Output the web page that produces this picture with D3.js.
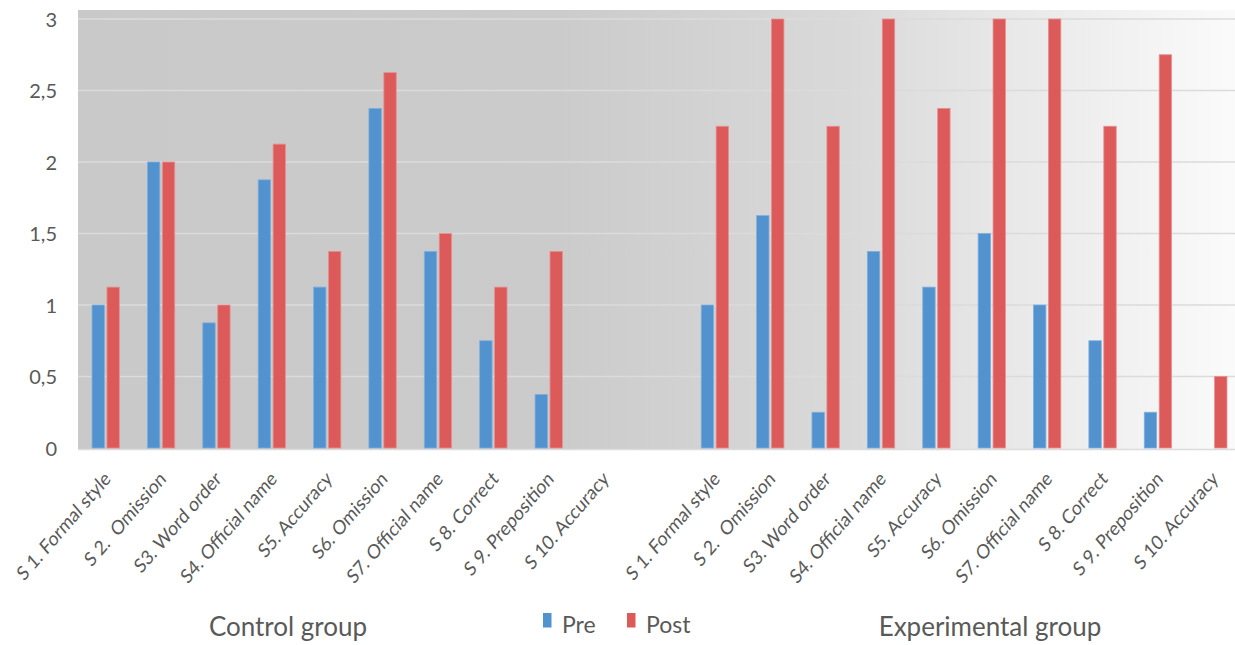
<!DOCTYPE html>
<html>
<head>
<meta charset="utf-8">
<script src="https://cdn.jsdelivr.net/npm/d3@7/dist/d3.min.js"></script>
<style>
  html, body { margin: 0; padding: 0; background: #ffffff; }
  svg { display: block; }
  text { font-family: Lato, "Open Sans", sans-serif; fill: #595959; }
</style>
</head>
<body>
<svg id="chart" width="1235" height="645"></svg>
<script>
// Items scored in each group
const categories = [
  "S 1. Formal style", "S 2.  Omission", "S3. Word order", "S4. Official name",
  "S5. Accuracy", "S6. Omission", "S7. Official name", "S 8. Correct",
  "S 9. Preposition", "S 10. Accuracy"
];
const groups = ["Control group", "Experimental group"];
const series = ["Pre", "Post"];

// Mean scores per item
const controlPre       = [1.0, 2.0, 0.875, 1.875, 1.125, 2.375, 1.375, 0.75, 0.375, 0];
const controlPost      = [1.125, 2.0, 1.0, 2.125, 1.375, 2.625, 1.5, 1.125, 1.375, 0];
const experimentalPre  = [1.0, 1.625, 0.25, 1.375, 1.125, 1.5, 1.0, 0.75, 0.25, 0];
const experimentalPost = [2.25, 3.0, 2.25, 3.0, 2.375, 3.0, 3.0, 2.25, 2.75, 0.5];

const yTicks = [0, 0.5, 1, 1.5, 2, 2.5, 3];
const colors = { Pre: "#5192cf", Post: "#dd5a5b" };
const strokes = { Pre: "#7fb0dd", Post: "#e88f90" };

// Slots along the x axis: ten control items, one empty gap, ten experimental items
const slots = [];
categories.forEach((c, i) => slots.push({ key: "c" + i, label: c, Pre: controlPre[i], Post: controlPost[i] }));
slots.push({ key: "gap", label: "", Pre: null, Post: null });
categories.forEach((c, i) => slots.push({ key: "e" + i, label: c, Pre: experimentalPre[i], Post: experimentalPost[i] }));

const svg = d3.select("#chart");
const plot = { left: 78, right: 1241, top: 10, bottom: 448 };

const x0 = d3.scaleBand().domain(slots.map(d => d.key)).range([plot.left, plot.right]).padding(0);
const x1 = d3.scaleBand().domain(series).range([0, x0.bandwidth()]).paddingInner(0.17).paddingOuter(0.94);
const y = d3.scaleLinear().domain([0, 3]).range([plot.bottom, 19]);

const locale = d3.formatLocale({ decimal: ",", thousands: ".", grouping: [3], currency: ["", "€"] });
const fmt = locale.format(".1~f");

// Plot background: flat grey fading to near white on the right
const defs = svg.append("defs");
const grad = defs.append("linearGradient").attr("id", "bg").attr("x1", "0%").attr("x2", "100%");
[[0, "#c9c9c9"], [0.41, "#cbcbcb"], [0.66, "#d9d9d9"], [0.79, "#e7e7e7"], [1, "#fbfbfb"]]
  .forEach(([o, c]) => grad.append("stop").attr("offset", o).attr("stop-color", c));

svg.append("rect")
  .attr("x", plot.left).attr("y", plot.top)
  .attr("width", plot.right - plot.left).attr("height", plot.bottom - plot.top + 1)
  .attr("fill", "url(#bg)");

// Horizontal gridlines
svg.append("g").selectAll("line").data(yTicks.filter(t => t > 0)).join("line")
  .attr("x1", plot.left).attr("x2", plot.right)
  .attr("y1", d => y(d)).attr("y2", d => y(d))
  .attr("stroke", "#dbdbdb").attr("stroke-width", 1.5);

// Baseline
svg.append("line")
  .attr("x1", plot.left).attr("x2", plot.right)
  .attr("y1", plot.bottom + 1.5).attr("y2", plot.bottom + 1.5)
  .attr("stroke", "#dcdcdc").attr("stroke-width", 1.5);

// Y axis labels
const yAxis = d3.axisLeft(y).tickValues(yTicks).tickFormat(fmt).tickSize(0).tickPadding(0);
const yg = svg.append("g").attr("transform", "translate(57,0)").call(yAxis);
yg.select(".domain").remove();
yg.selectAll("text").attr("font-size", 20).attr("fill", "#595959")
  .attr("font-family", "Lato, 'Open Sans', sans-serif").attr("dy", "0.36em");

// Bars
const barData = [];
slots.forEach(s => series.forEach(k => {
  if (s[k] != null && s[k] > 0) barData.push({ slot: s.key, series: k, value: s[k] });
}));
svg.append("g").selectAll("rect").data(barData).join("rect")
  .attr("x", d => x0(d.slot) + x1(d.series))
  .attr("y", d => y(d.value))
  .attr("width", x1.bandwidth())
  .attr("height", d => y(0) - y(d.value))
  .attr("fill", d => colors[d.series])
  .attr("stroke", d => strokes[d.series])
  .attr("stroke-width", 0.8);

// X axis category labels, rotated and slightly condensed
const xAxis = d3.axisBottom(x0).tickFormat(k => slots.find(s => s.key === k).label).tickSize(0).tickPadding(0);
const xg = svg.append("g").attr("transform", `translate(0,${plot.bottom})`).call(xAxis);
xg.select(".domain").remove();
xg.selectAll(".tick text")
  .attr("font-size", 20)
  .attr("fill", "#595959")
  .attr("font-family", "Lato, 'Open Sans', sans-serif")
  .style("white-space", "pre")
  .attr("text-anchor", "end")
  .attr("x", 0).attr("y", 0).attr("dy", null)
  .attr("transform", "translate(6,32) scale(0.86,1) rotate(-45)");

// Group titles
svg.append("text").attr("x", 288).attr("y", 636).attr("text-anchor", "middle")
  .attr("font-size", 26).text(groups[0]);
svg.append("text").attr("x", 990).attr("y", 636).attr("text-anchor", "middle")
  .attr("font-size", 26).text(groups[1]);

// Legend
const legend = svg.append("g");
const legendPos = [{ k: "Pre", x: 543 }, { k: "Post", x: 627 }];
legendPos.forEach(p => {
  legend.append("rect").attr("x", p.x).attr("y", 613).attr("width", 8.5).attr("height", 14.5)
    .attr("fill", colors[p.k]);
  legend.append("text").attr("x", p.x + 19).attr("y", 633).attr("font-size", 23).text(p.k);
});
</script>
</body>
</html>
